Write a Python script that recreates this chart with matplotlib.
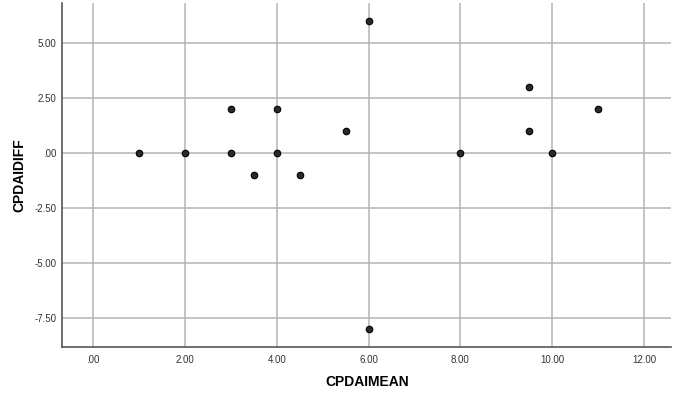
import matplotlib
matplotlib.use("Agg")
import matplotlib.pyplot as plt

plt.rcParams["font.family"] = ["Liberation Sans", "DejaVu Sans"]

cpdai_mean = [1, 2, 3, 3, 3.5, 4, 4, 4.5, 5.5, 6, 6, 8, 9.5, 9.5, 10, 11]
cpdai_diff = [0, 0, 2, 0, -1, 2, 0, -1, 1, 6, -8, 0, 3, 1, 0, 2]
x_ticks = [0, 2, 4, 6, 8, 10, 12]
x_labels = [".00", "2.00", "4.00", "6.00", "8.00", "10.00", "12.00"]
y_ticks = [-7.5, -5, -2.5, 0, 2.5, 5]
y_labels = ["-7.50", "-5.00", "-2.50", ".00", "2.50", "5.00"]

fig = plt.figure(figsize=(6.84, 3.95), dpi=100)
ax = fig.add_axes([0.0906, 0.1215, 0.891, 0.8705])
ax.set_xlim(-0.68, 12.6)
ax.set_ylim(-8.8, 6.8)
ax.set_xticks(x_ticks)
ax.set_xticklabels(x_labels)
ax.set_yticks(y_ticks)
ax.set_yticklabels(y_labels)
ax.grid(True, color="#b4b4b4", linewidth=1.1)
ax.set_axisbelow(True)
ax.scatter(cpdai_mean, cpdai_diff, s=22, color="#2a2a2a", edgecolors="#000000",
           linewidths=0.8, zorder=3)
for s in ["top", "right"]:
    ax.spines[s].set_visible(False)
for s in ["left", "bottom"]:
    ax.spines[s].set_color("#555555")
    ax.spines[s].set_linewidth(1.2)
ax.tick_params(axis="x", length=0, labelsize=7, colors="#333333", pad=6)
ax.tick_params(axis="y", length=0, labelsize=7, colors="#333333", pad=4)
ax.set_xlabel("CPDAIMEAN", fontsize=10, fontweight="bold", labelpad=7)
ax.set_ylabel("CPDAIDIFF", fontsize=10, fontweight="bold", labelpad=6)
fig.savefig("out.png", dpi=100)
